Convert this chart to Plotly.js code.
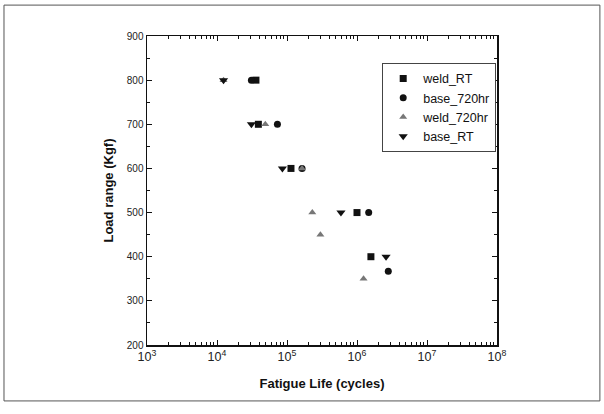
<!DOCTYPE html>
<html><head><meta charset="utf-8">
<script src="https://cdn.plot.ly/plotly-3.0.1.min.js"></script>
<style>html,body{margin:0;padding:0;background:#fff}#c{width:604px;height:414px}</style>
</head><body><div id="c"></div>
<script>
var weldRT_x = [36000, 39000, 114000, 1000000, 1580000];
var weldRT_y = [800, 700, 600, 500, 400];
var base720_x = [31000, 73000, 164000, 1470000, 2800000];
var base720_y = [800, 700, 600, 500, 367];
var weld720_x = [12400, 49000, 164000, 230000, 300000, 1240000];
var weld720_y = [800, 700, 600, 500, 450, 350];
var baseRT_x = [12400, 31000, 86000, 590000, 2600000];
var baseRT_y = [800, 700, 600, 500, 400];

var traces = [
  {name:'weld_RT', x:weldRT_x, y:weldRT_y, mode:'markers', type:'scatter',
   marker:{symbol:'square', size:7, color:'#111'}},
  {name:'base_720hr', x:base720_x, y:base720_y, mode:'markers', type:'scatter',
   marker:{symbol:'circle', size:7, color:'#111'}},
  {name:'weld_720hr', x:weld720_x, y:weld720_y, mode:'markers', type:'scatter',
   marker:{symbol:'triangle-up', size:7, color:'#777'}},
  {name:'base_RT', x:baseRT_x, y:baseRT_y, mode:'markers', type:'scatter',
   marker:{symbol:'triangle-down', size:8, color:'#111'}}
];
var fnt = {family:'Liberation Sans, Arial, sans-serif', color:'#111'};
var layout = {
  width:604, height:414, showlegend:true,
  margin:{l:147, r:107, t:36, b:69},
  paper_bgcolor:'#fff', plot_bgcolor:'#fff',
  font:fnt,
  xaxis:{type:'log', range:[3,8], dtick:1, exponentformat:'power', showexponent:'all',
    ticks:'inside', ticklen:5, tickwidth:1, tickcolor:'#111', mirror:'ticks',
    showline:true, linecolor:'#111', linewidth:1.5, showgrid:false, zeroline:false,
    minor:{ticks:'inside', ticklen:3, dtick:'D1', tickcolor:'#111', showgrid:false},
    tickfont:{family:'Liberation Sans, Arial, sans-serif', size:10, color:'#222'},
    title:{text:'<b>Fatigue Life (cycles)</b>', standoff:16, font:{family:'Liberation Sans, Arial, sans-serif', size:13, color:'#111'}}},
  yaxis:{range:[200,900], dtick:100, ticks:'inside', ticklen:5, tickwidth:1, tickcolor:'#111', mirror:'ticks',
    showline:true, linecolor:'#111', linewidth:1.5, showgrid:false, zeroline:false,
    minor:{ticks:'inside', ticklen:3, dtick:50, tickcolor:'#111', showgrid:false},
    tickfont:{family:'Liberation Sans, Arial, sans-serif', size:10, color:'#222'},
    title:{text:'<b>Load range (Kgf)</b>', standoff:10, font:{family:'Liberation Sans, Arial, sans-serif', size:13, color:'#111'}}},
  legend:{x:0.672, y:0.913, xanchor:'left', yanchor:'top', bordercolor:'#444', borderwidth:1,
    bgcolor:'#fff', font:{family:'Liberation Sans, Arial, sans-serif', size:12.5, color:'#111'},
    tracegroupgap:0, itemwidth:30},
  shapes:[{type:'rect', xref:'paper', yref:'paper', x0:-0.4086, x1:1.294, y0:-0.181, y1:1.1,
    line:{color:'#555', width:1}}]
};
Plotly.newPlot('c', traces, layout, {staticPlot:true, displayModeBar:false});
</script></body></html>
